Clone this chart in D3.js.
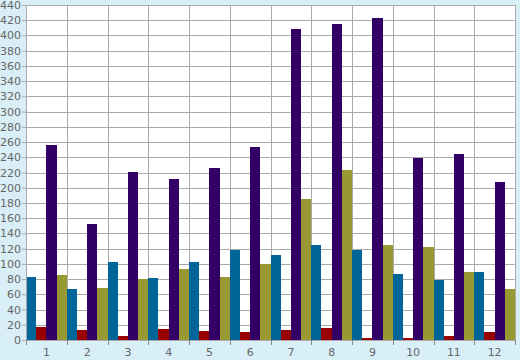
<!DOCTYPE html>
<html><head><meta charset="utf-8">
<script src="https://cdn.jsdelivr.net/npm/d3@7"></script>
<style>html,body{margin:0;padding:0;background:#d9eff7;}svg{display:block;}</style>
</head><body>
<svg id="c" width="520" height="360"></svg>
<script>
const categories = ["1","2","3","4","5","6","7","8","9","10","11","12"];
const seriesNames = ["A","B","C","D"];
const seriesA = [83, 67, 102, 81, 102, 118, 112, 125, 118, 87, 79, 89];
const seriesB = [17, 13, 5, 14, 12, 10, 13, 16, 3, 2, 5, 10];
const seriesC = [256, 152, 221, 211, 226, 253, 408, 415, 423, 239, 244, 207];
const seriesD = [85, 68, 80, 93, 83, 100, 185, 223, 125, 122, 89, 67];
const yTicks = d3.range(0, 441, 20);
const colors = ["#006699", "#990000", "#330066", "#999933"];

const allSeries = [seriesA, seriesB, seriesC, seriesD];
const L = 26, R = 515, T = 5, B = 340;
const svg = d3.select("#c");
const x = d3.scaleBand().domain(categories).range([L, R]).padding(0);
const xs = d3.scaleBand().domain(seriesNames).range([0, x.bandwidth()]).padding(0);
const y = d3.scaleLinear().domain([0, 440]).range([B, T]);

svg.append("rect").attr("x", L).attr("y", T).attr("width", R - L).attr("height", B - T).attr("fill", "#ffffff");

// grid
const g = svg.append("g").attr("stroke", "#aaaaaa").attr("stroke-width", 1).attr("shape-rendering", "crispEdges");
g.selectAll(".h").data(yTicks).join("line")
  .attr("x1", L).attr("x2", R).attr("y1", d => Math.round(y(d)) + 0.5).attr("y2", d => Math.round(y(d)) + 0.5);
const bounds = categories.map(c => x(c)).concat([R]);
g.selectAll(".v").data(bounds).join("line")
  .attr("x1", d => Math.round(d) + 0.5).attr("x2", d => Math.round(d) + 0.5).attr("y1", T).attr("y2", B);

// bars
categories.forEach((c, i) => {
  seriesNames.forEach((s, j) => {
    const v = allSeries[j][i];
    svg.append("rect")
      .attr("x", x(c) + xs(s))
      .attr("width", xs.bandwidth())
      .attr("y", y(v))
      .attr("height", y(0) - y(v))
      .attr("fill", colors[j])
      .attr("shape-rendering", "crispEdges");
  });
});

// y axis
const ya = svg.append("g").attr("transform", `translate(${L},0)`)
  .call(d3.axisLeft(y).tickValues(yTicks).tickSize(4).tickPadding(1));
ya.select(".domain").attr("stroke", "#aaaaaa");
ya.selectAll(".tick line").attr("stroke", "#aaaaaa");
ya.selectAll("text").attr("fill", "#666666").style("font", "11px 'DejaVu Sans', sans-serif");

// x axis
const xa = svg.append("g").attr("transform", `translate(0,${B})`)
  .call(d3.axisBottom(x).tickSize(0).tickPadding(8));
xa.select(".domain").attr("stroke", "#aaaaaa");
xa.selectAll("text").attr("fill", "#666666").style("font", "11px 'DejaVu Sans', sans-serif");
svg.append("g").attr("stroke", "#888888").attr("shape-rendering", "crispEdges")
  .selectAll("line").data(bounds).join("line")
  .attr("x1", d => Math.round(d) + 0.5).attr("x2", d => Math.round(d) + 0.5)
  .attr("y1", B).attr("y2", B + 5);
</script>
</body></html>
